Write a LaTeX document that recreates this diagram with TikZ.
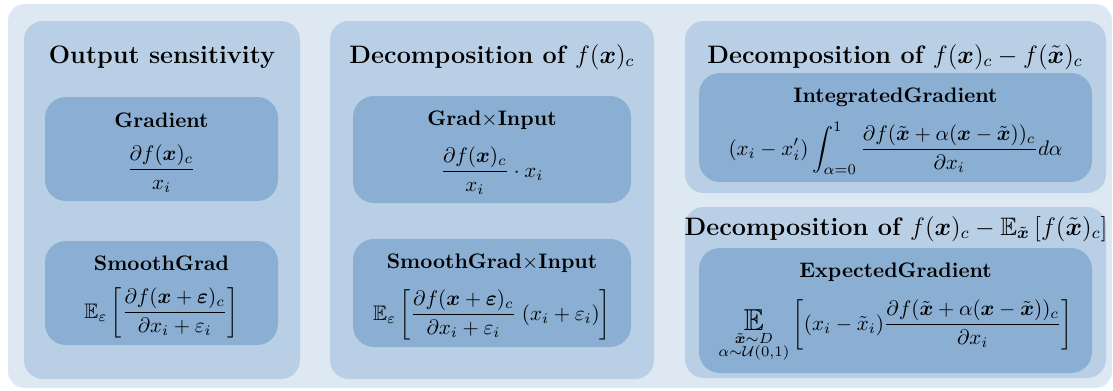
\documentclass[tikz,border=0pt]{standalone}
\usepackage{amsmath,amssymb}
\usepackage{xcolor}
\usepackage{tikz}
\usetikzlibrary{positioning}
\definecolor{outerbg}{RGB}{221,232,242}
\definecolor{panelbg}{RGB}{185,207,229}
\definecolor{boxbg}{RGB}{138,175,211}
\newlength\pxu
\setlength\pxu{0.476pt}
\tikzset{
  outer/.style  = {fill=outerbg, rounded corners=8pt, inner sep=0pt,
                   minimum width=1104\pxu, minimum height=384\pxu},
  panel/.style  = {fill=panelbg, rounded corners=9pt, inner sep=0pt},
  method/.style = {fill=boxbg, rounded corners=10pt, inner sep=0pt},
  ptitle/.style = {font=\large\bfseries, anchor=base, inner sep=0pt},
  mlabel/.style = {font=\normalsize\bfseries, anchor=base, inner sep=0pt},
  mform/.style  = {anchor=base, inner sep=0pt}
}

\begin{document}
\begin{tikzpicture}[x=1\pxu, y=-1\pxu]
\useasboundingbox (0,0) rectangle (1113,390);
\node[outer] (bg) at (560,196) {};
% panels
\node[panel, minimum width=276\pxu, minimum height=358\pxu] (sens)  at (162,200) {};
\node[panel, minimum width=324\pxu, minimum height=358\pxu] (decf)  at (492,200) {};
\node[panel, minimum width=421\pxu, minimum height=172\pxu] (decb)  at (895.5,107) {};
\node[panel, minimum width=421\pxu, minimum height=171\pxu] (dece)  at (895.5,292.5) {};
% titles
\node[ptitle] (sensT) at (162,63) {Output sensitivity};
\node[ptitle] (decfT) at (492,63) {Decomposition of $f(\boldsymbol{x})_c$};
\node[ptitle] (decbT) at (895,63)
      {Decomposition of $f(\boldsymbol{x})_c-f(\tilde{\boldsymbol{x}})_c$};
\node[ptitle] (deceT) at (896,235)
      {Decomposition of $f(\boldsymbol{x})_c-\mathbb{E}_{\tilde{\boldsymbol{x}}}\left[f(\tilde{\boldsymbol{x}})_c\right]$};
% method boxes
\node[method, minimum width=233\pxu, minimum height=104\pxu] (grad)  at (161.5,149) {};
\node[method, minimum width=233\pxu, minimum height=104\pxu] (sgrad) at (161.5,293) {};
\node[method, minimum width=278\pxu, minimum height=107\pxu] (gxi)   at (492,149.5) {};
\node[method, minimum width=278\pxu, minimum height=108\pxu] (sgxi)  at (492,293) {};
\node[method, minimum width=393\pxu, minimum height=109\pxu] (igrad) at (895.5,127.5) {};
\node[method, minimum width=393\pxu, minimum height=125\pxu] (egrad) at (895.5,310.5) {};
% names and formulas
\node[mlabel] (gradL) at (161.5,127) {Gradient};
\node[mform]  (gradF) at (161.5,175)
      {$\displaystyle\frac{\partial f(\boldsymbol{x})_c}{x_i}$};
\node[mlabel] (sgradL) at (161.5,270) {SmoothGrad};
\node[mform]  (sgradF) at (161.5,318)
      {$\displaystyle\mathbb{E}_{\varepsilon}\left[\frac{\partial f(\boldsymbol{x}+\boldsymbol{\varepsilon})_c}{\partial x_i+\varepsilon_i}\right]$};
\node[mlabel] (gxiL) at (492,125) {Grad$\times$Input};
\node[mform]  (gxiF) at (492,177)
      {$\displaystyle\frac{\partial f(\boldsymbol{x})_c}{x_i}\cdot x_i$};
\node[mlabel] (sgxiL) at (492,268) {SmoothGrad$\times$Input};
\node[mform]  (sgxiF) at (492,320)
      {$\displaystyle\mathbb{E}_{\varepsilon}\left[\frac{\partial f(\boldsymbol{x}+\boldsymbol{\varepsilon})_c}{\partial x_i+\varepsilon_i}\;(x_i+\varepsilon_i)\right]$};
\node[mlabel] (igradL) at (895.5,102) {IntegratedGradient};
\node[mform]  (igradF) at (895.5,155)
      {$\displaystyle(x_i-x'_i)\int_{\alpha=0}^{1}\frac{\partial f(\tilde{\boldsymbol{x}}+\alpha(\boldsymbol{x}-\tilde{\boldsymbol{x}}))_c}{\partial x_i}d\alpha$};
\node[mlabel] (egradL) at (895.5,277) {ExpectedGradient};
\node[mform]  (egradF) at (895.5,330)
      {$\displaystyle\underset{\substack{\tilde{\boldsymbol{x}}\sim D\\ \alpha\sim\mathcal{U}(0,1)}}{\text{\Large$\mathbb{E}$}}\left[(x_i-\tilde{x}_i)\frac{\partial f(\tilde{\boldsymbol{x}}+\alpha(\boldsymbol{x}-\tilde{\boldsymbol{x}}))_c}{\partial x_i}\right]$};
\end{tikzpicture}
\end{document}
